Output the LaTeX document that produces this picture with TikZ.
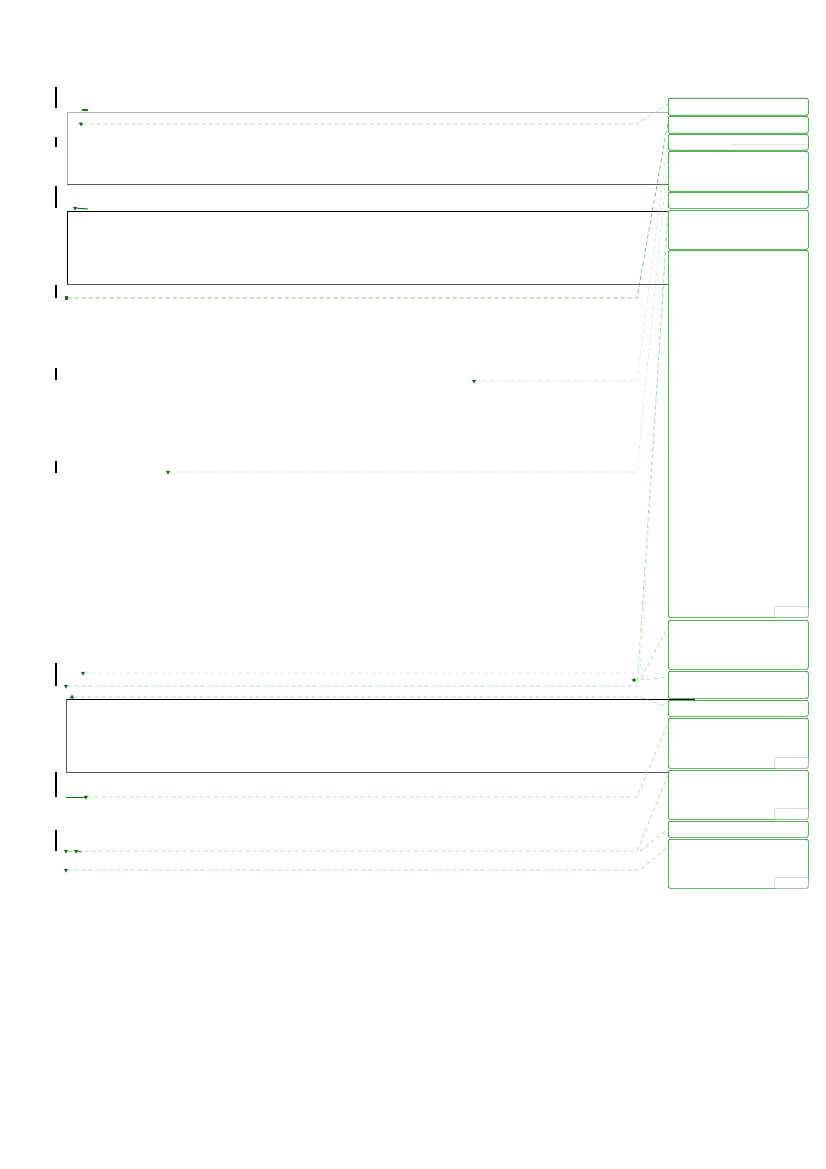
\documentclass[tikz,border=0pt]{standalone}
\usetikzlibrary{shapes.geometric}
\tikzset{
  note/.style={draw=green!50!black,rounded corners=2pt,anchor=north west,
    minimum width=140pt,inner sep=0pt,line width=0.6pt},
  tab/.style={draw=gray!45,rounded corners=2pt,anchor=south east,
    minimum width=34pt,minimum height=11pt,inner sep=0pt,line width=0.5pt},
  tipdown/.style={regular polygon,regular polygon sides=3,shape border rotate=180,
    fill=green!45!black,inner sep=0pt,minimum size=5pt},
  tipup/.style={tipdown,shape border rotate=0},
  tipleft/.style={tipdown,shape border rotate=90},
  leader/.style={dashed,dash pattern=on 4pt off 3pt,green!60!black!40,line width=0.6pt},
  leaderdark/.style={leader,green!60!black!75},
  leaderpale/.style={leader,green!60!black!22},
  bar/.style={black,line width=1.1pt},
}
\begin{document}
\begin{tikzpicture}[x=1pt,y=-1pt]
\useasboundingbox (0,0) rectangle (826,1169);

% Change bars in the margin
\foreach \ya/\yb in {87/108,137/147,186/208,285/298,368/380,461/473,663/686,772/797,830/851}
  \draw[bar] (56,\ya) -- (56,\yb);

% Framed blocks
\draw[gray!60,line width=0.6pt] (668,112) -- (67,112) -- (67,184);
\draw[black!65,line width=0.6pt] (67,184) -- (668,184);
\draw[black,line width=0.6pt] (668,211) -- (67,211) -- (67,284);
\draw[black!65,line width=0.6pt] (67,284) -- (668,284);
\draw[black,line width=0.6pt] (695,699) -- (66,699);
\draw[black!65,line width=0.6pt] (66,699) -- (66,772) -- (668,772);

% Comment boxes
\node[note,minimum height=17pt] (c1) at (668,98) {};
\node[note,minimum height=17pt] (c2) at (668,116) {};
\node[note,minimum height=16pt] (c3) at (668,134) {};
\node[note,minimum height=40pt] (c4) at (668,151) {};
\node[note,minimum height=16pt] (c5) at (668,192) {};
\node[note,minimum height=39pt] (c6) at (668,210) {};
\node[note,minimum height=367pt] (c7) at (668,250) {};
\node[note,minimum height=49pt] (c8) at (668,620) {};
\node[note,minimum height=27pt] (c9) at (668,671) {};
\node[note,minimum height=16pt] (c10) at (668,700) {};
\node[note,minimum height=50pt] (c11) at (668,718) {};
\node[note,minimum height=49pt] (c12) at (668,770) {};
\node[note,minimum height=16pt] (c13) at (668,821) {};
\node[note,minimum height=49pt] (c14) at (668,839) {};
\foreach \c in {c1,c2,c3,c4,c5,c6,c7,c8,c9,c10,c11,c12,c13,c14}
  \draw[green!55!black!60,line width=1.1pt] ([xshift=3pt]\c.south west) -- ([xshift=-3pt]\c.south east);
\draw[gray!20,line width=0.6pt] (731,144) -- (806,144);
\node[tab] (t7) at (c7.south east) {};
\node[tab] (t11) at (c11.south east) {};
\node[tab] (t12) at (c12.south east) {};
\node[tab] (t14) at (c14.south east) {};

% Markers
\draw[green!50!black,line width=1.2pt] (82,110) -- (88,110);
\node[tipdown] (m1) at (81,124) {};
\node[tipdown] (m2) at (75,208) {};
\draw[green!50!black,line width=1pt] (m2.center) -- (88,209);
\node[fill=green!45!black,inner sep=0pt,minimum width=3pt,minimum height=4pt] (m3) at (66,298) {};
\node[tipdown] (m4) at (474,381) {};
\node[tipdown] (m5) at (168,472) {};
\node[tipdown] (m6) at (83,673) {};
\node[tipdown] (m7) at (66,686) {};
\node[tipleft] (m8) at (634,680) {};
\node[tipup] (m9) at (72,697) {};
\node[tipdown] (m10) at (86,797) {};
\draw[green!50!black,line width=0.9pt] (66,797) -- (m10.center);
\node[tipdown] (m11) at (66,851) {};
\node[tipdown] (m12) at (76,851) {};
\draw[green!50!black,line width=0.9pt] (m12.center) -- (82,852);
\node[tipdown] (m13) at (66,870) {};
\coordinate (bend) at (637,0);

% Leaders to the comments
\draw[leader] (m1) -- (m1 -| bend) -- ([yshift=-6pt]c1.north west);
\draw[leaderdark] (m3) -- (m3 -| bend) -- ([yshift=-6pt]c2.north west);
\draw[leaderpale] (m4) -- (m4 -| bend) -- ([yshift=-6pt]c3.north west);
\draw[leaderpale] (m5) -- (m5 -| bend) -- ([yshift=-6pt]c4.north west);
\draw[leaderpale] (m6) -- ([xshift=3pt]m6 -| bend) -- ([yshift=-6pt]c5.north west);
\draw[leader] (m7) -- (m7 -| bend) -- ([yshift=-6pt]c6.north west);
\draw[leader] (m8) -- ([xshift=6pt]m8.center) -- ([yshift=-7pt]c8.north west);
\draw[leader] ([xshift=6pt]m8.center) -- ([yshift=-6pt]c9.north west);
\draw[leader] (m9) -- ([xshift=3pt]m9 -| bend) -- ([yshift=-7pt]c10.north west);
\draw[leader] (m10) -- (m10 -| bend) -- ([yshift=-5pt]c11.north west);
\draw[leader] (m12) -- (m12 -| bend) -- ([yshift=-5pt]c12.north west);
\draw[leader] (m11) -- (m12);
\draw[leader] ([xshift=3pt]m12 -| bend) -- ([yshift=-8pt]c13.north west);
\draw[leader] (m13) -- ([xshift=3pt]m13 -| bend) -- ([yshift=-8pt]c14.north west);
\end{tikzpicture}
\end{document}
